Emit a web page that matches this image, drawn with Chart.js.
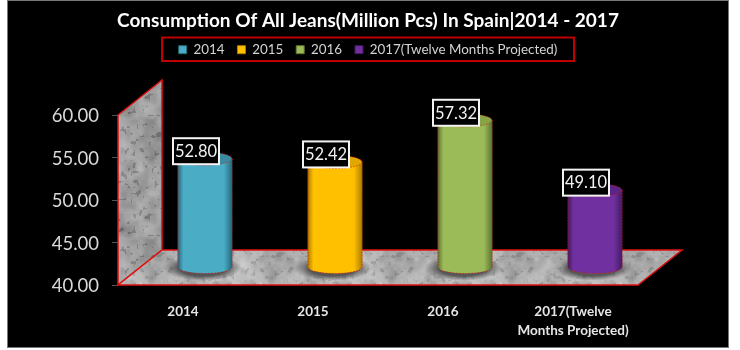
<!DOCTYPE html>
<html><head><meta charset="utf-8">
<script src="https://cdn.jsdelivr.net/npm/chart.js@4/dist/chart.umd.min.js"></script>
<style>
html,body{margin:0;padding:0;background:#fff;width:740px;height:350px;overflow:hidden}
#f{position:absolute;left:7px;top:0;width:720px;height:346px;border:1px solid #777;background:#000}
canvas{display:block}
</style></head><body><div id="f"><canvas id="c" width="720" height="346"></canvas></div>
<script>
const titleText = 'Consumption Of All Jeans(Million Pcs) In Spain|2014 - 2017';
const categories = [['2014'], ['2015'], ['2016'], ['2017(Twelve', 'Months Projected)']];
const seriesNames = ['2014', '2015', '2016', '2017(Twelve Months Projected)'];
const values = [52.80, 52.42, 57.32, 49.10];
const axisMin = 40, axisMax = 60, axisStep = 5;
const colors = ['#4bacc6', '#ffc000', '#9bbb59', '#7030a0'];
const darkColors = ['#27697b', '#b07f00', '#5f7533', '#431a63'];
const topColors = ['#3a8ba1', '#e0a800', '#86a548', '#5c2585'];

const DX = 44, DY = -35, RY = 6.5, RED = '#e01010';

function hash(x, y, s) {
  const v = Math.sin(x * 127.1 + y * 311.7 + s * 74.7) * 43758.5453;
  return v - Math.floor(v);
}
function smooth(x, y, cell, s, N) {
  const m = Math.round(N / cell);
  const gx = x / cell, gy = y / cell, ix = Math.floor(gx), iy = Math.floor(gy);
  const fx = gx - ix, fy = gy - iy;
  const u = fx * fx * (3 - 2 * fx), v = fy * fy * (3 - 2 * fy);
  const h = (a, b) => hash((a + m) % m, (b + m) % m, s);
  return (h(ix, iy) * (1 - u) + h(ix + 1, iy) * u) * (1 - v) + (h(ix, iy + 1) * (1 - u) + h(ix + 1, iy + 1) * u) * v;
}
function texture(level, amp, speck) {
  const N = 120;
  const p = document.createElement('canvas'); p.width = p.height = N;
  const g = p.getContext('2d');
  for (let y = 0; y < N; y++) for (let x = 0; x < N; x++) {
    const n = 0.55 * smooth(x, y, 12, 1, N) + 0.3 * smooth(x, y, 6, 2, N) + 0.15 * smooth(x, y, 3, 3, N) - 0.5;
    let c = level + n * amp;
    if (smooth(x, y, 3, 5, N) > 0.78) c -= speck;
    c = Math.round(c);
    g.fillStyle = 'rgb(' + c + ',' + c + ',' + c + ')';
    g.fillRect(x, y, 1, 1);
  }
  return p;
}

function barGrad(ctx, cx, w, i) {
  const g = ctx.createLinearGradient(cx - w / 2, 0, cx + w / 2, 0);
  g.addColorStop(0, darkColors[i]); g.addColorStop(0.1, colors[i]);
  g.addColorStop(0.85, colors[i]); g.addColorStop(1, darkColors[i]);
  return g;
}

const scene = {
  id: 'scene',
  beforeDatasetsDraw(chart) {
    const { ctx, chartArea: a } = chart;
    const poly = (pts, fill) => {
      ctx.beginPath(); pts.forEach((p, i) => i ? ctx.lineTo(p[0], p[1]) : ctx.moveTo(p[0], p[1])); ctx.closePath();
      ctx.fillStyle = fill; ctx.fill();
      ctx.strokeStyle = RED; ctx.lineWidth = 1.5; ctx.stroke();
    };
    ctx.save();
    poly([[a.left, a.bottom], [a.left, a.top], [a.left + DX, a.top + DY], [a.left + DX, a.bottom + DY]],
      ctx.createPattern(texture(158, 70, 30), 'repeat'));
    poly([[a.left, a.bottom], [a.right, a.bottom], [a.right + DX, a.bottom + DY], [a.left + DX, a.bottom + DY]],
      ctx.createPattern(texture(178, 80, 22), 'repeat'));
    ctx.restore();
    ctx.save();
    ctx.translate(DX / 2, DY / 2);
    chart.data.datasets.forEach((d, i) => {
      const el = chart.getDatasetMeta(i).data[i];
      const w = el.width, cx = el.x, y = el.base;
      ctx.save();
      ctx.translate(cx - 2, y + 1); ctx.scale(1, 0.33);
      const s = ctx.createRadialGradient(0, 0, w * 0.45, 0, 0, w * 0.72);
      s.addColorStop(0, 'rgba(70,70,70,.85)'); s.addColorStop(1, 'rgba(90,90,90,0)');
      ctx.fillStyle = s; ctx.beginPath(); ctx.arc(0, 0, w * 0.72, 0, Math.PI * 2); ctx.fill();
      ctx.restore();
      ctx.beginPath(); ctx.ellipse(cx, y, w / 2, RY, 0, 0, Math.PI * 2);
      ctx.fillStyle = barGrad(ctx, cx, w, i); ctx.fill();
      ctx.strokeStyle = RED; ctx.lineWidth = 0.7; ctx.setLineDash([1.5, 1.5]);
      ctx.beginPath(); ctx.ellipse(cx, y, w / 2, RY, 0, 0, Math.PI); ctx.stroke();
      ctx.setLineDash([]);
    });
  },
  afterDatasetsDraw(chart) {
    const { ctx } = chart;
    chart.data.datasets.forEach((d, i) => {
      const el = chart.getDatasetMeta(i).data[i];
      const w = el.width, cx = el.x, y = el.y;
      ctx.beginPath(); ctx.ellipse(cx, y, w / 2, RY, 0, 0, Math.PI * 2);
      ctx.fillStyle = topColors[i]; ctx.fill();
      ctx.strokeStyle = RED; ctx.lineWidth = 0.7; ctx.setLineDash([1.5, 1.5]); ctx.stroke();
      ctx.beginPath();
      ctx.moveTo(cx - w / 2, y); ctx.lineTo(cx - w / 2, el.base);
      ctx.moveTo(cx + w / 2, y); ctx.lineTo(cx + w / 2, el.base); ctx.stroke();
      ctx.setLineDash([]);
    });
    ctx.restore();
    ctx.save();
    ctx.font = '16.5px Lato';
    ctx.textAlign = 'center'; ctx.textBaseline = 'middle';
    chart.data.datasets.forEach((d, i) => {
      const el = chart.getDatasetMeta(i).data[i];
      const cx = el.x + 13, cy = el.y + DY / 2 - 7.5;
      ctx.fillStyle = '#000'; ctx.fillRect(cx - 23, cy - 13, 46, 26);
      ctx.strokeStyle = '#f4f4f4'; ctx.lineWidth = 2; ctx.strokeRect(cx - 23, cy - 13, 46, 26);
      ctx.fillStyle = '#f2f2f2'; ctx.fillText(values[i].toFixed(2), cx, cy + 0.5);
    });
    ctx.restore();
  },
  afterDraw(chart) {
    const { ctx, legend: l } = chart;
    ctx.save(); ctx.strokeStyle = '#c00000'; ctx.lineWidth = 2;
    const mid = (l.left + l.right) / 2;
    ctx.strokeRect(mid - 206, 36.5, 412, 23.5);
    ctx.restore();
  }
};

new Chart(document.getElementById('c'), {
  type: 'bar',
  data: {
    labels: categories,
    datasets: seriesNames.map((name, i) => ({
      label: name,
      data: values.map((v, j) => j === i ? v : null),
      base: axisMin,
      backgroundColor: c => c.type === 'data' ? barGrad(c.chart.ctx, c.chart.scales.x.getPixelForValue(i), 54, i) : colors[i]
    }))
  },
  options: {
    responsive: false, animation: false,
    layout: { padding: 0 },
    datasets: { bar: { barThickness: 54, grouped: false, clip: false, borderWidth: 0 } },
    plugins: {
      tooltip: { enabled: false },
      title: { display: true, text: titleText, color: '#fff', font: { family: 'Lato', size: 19, weight: 'bold', lineHeight: 1 }, padding: { top: 10, bottom: 0 } },
      legend: {
        display: true, position: 'top',
        labels: {
          color: '#d4d4d4', font: { family: 'Lato', size: 13.4 }, boxWidth: 8, boxHeight: 8, padding: 13,
          generateLabels: () => seriesNames.map((n, i) => ({ text: n, fillStyle: colors[i], strokeStyle: darkColors[i], lineWidth: 1, datasetIndex: i, fontColor: '#d4d4d4' }))
        }
      }
    },
    scales: {
      x: {
        grid: { display: false }, border: { display: false },
        ticks: { color: '#e6e6e6', font: { family: 'Lato', size: 13.5, weight: 'bold', lineHeight: 1.4 }, padding: 9, maxRotation: 0, autoSkip: false },
        afterFit: s => { s.height = 62; }
      },
      y: {
        min: axisMin, max: axisMax,
        grid: { drawOnChartArea: false, drawTicks: true, tickLength: 6, color: '#555' }, border: { display: false },
        ticks: { stepSize: axisStep, color: '#d9d9d9', font: { family: 'Lato', size: 18.5 }, padding: 13, labelOffset: 1.5, callback: v => v.toFixed(2) },
        afterFit: s => { s.width = 110; }
      },
      rightGap: {
        type: 'linear', position: 'right', display: true, grid: { display: false }, border: { display: false },
        ticks: { display: false }, afterFit: s => { s.width = 90; }
      },
      topGap: {
        type: 'linear', position: 'top', display: true, grid: { display: false }, border: { display: false },
        ticks: { display: false }, afterFit: s => { s.height = 114 - s.chart.titleBlock.height - s.chart.legend.height; }
      }
    }
  },
  plugins: [scene]
});
</script></body></html>
